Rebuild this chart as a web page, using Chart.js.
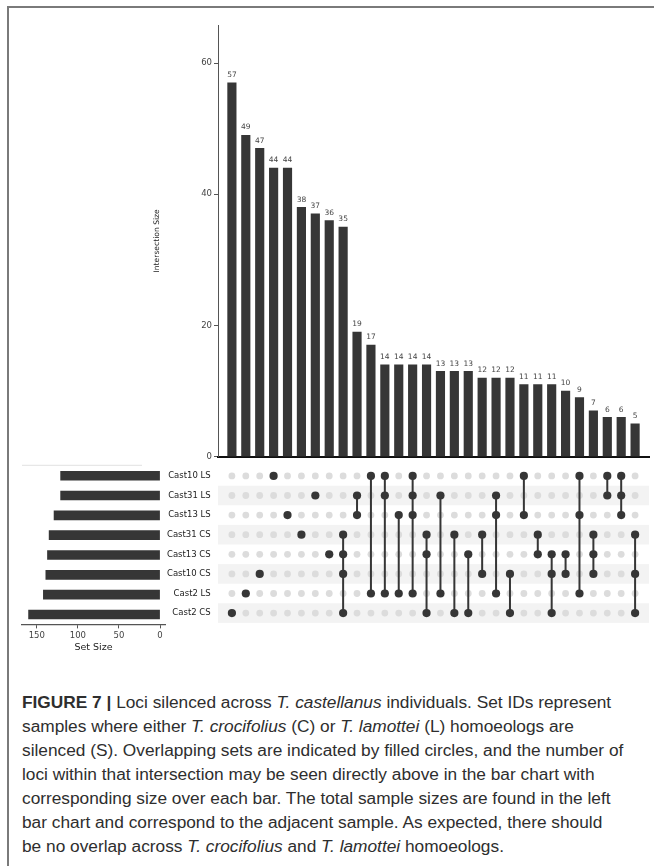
<!DOCTYPE html>
<html>
<head>
<meta charset="utf-8">
<script src="https://cdn.jsdelivr.net/npm/chart.js@4.4.0/dist/chart.umd.min.js"></script>
<style>
  body { margin: 0; background: #fff; width: 654px; height: 866px; overflow: hidden; position: relative; }
  .frame { position: absolute; left: 7px; top: 6px; right: 0; bottom: 0; border-left: 2px solid #7a7a7a; border-top: 2px solid #7a7a7a; }
  canvas { position: absolute; }
  #caption { position: absolute; left: 22px; top: 690px; font-family: "Liberation Sans", Arial, sans-serif; font-size: 17.3px; line-height: 24px; color: #2e2e2e; white-space: nowrap; }
</style>
</head>
<body>
<div class="frame"></div>
<canvas id="bars" width="514" height="470" style="left:140px;top:0"></canvas>
<canvas id="matrix" width="514" height="165" style="left:140px;top:462px"></canvas>
<canvas id="totals" width="175" height="200" style="left:0;top:462px"></canvas>
<div id="caption">
  <b>FIGURE 7 |</b> Loci silenced across <i>T. castellanus</i> individuals. Set IDs represent<br>
  samples where either <i>T. crocifolius</i> (C) or <i>T. lamottei</i> (L) homoeologs are<br>
  silenced (S). Overlapping sets are indicated by filled circles, and the number of<br>
  loci within that intersection may be seen directly above in the bar chart with<br>
  corresponding size over each bar. The total sample sizes are found in the left<br>
  bar chart and correspond to the adjacent sample. As expected, there should<br>
  be no overlap across <i>T. crocifolius</i> and <i>T. lamottei</i> homoeologs.
</div>
<script>
// sets, top row first
const setNames = ['Cast10 LS', 'Cast31 LS', 'Cast13 LS', 'Cast31 CS', 'Cast13 CS', 'Cast10 CS', 'Cast2 LS', 'Cast2 CS'];
const setSizes = [121, 121, 129, 135, 137, 139, 142, 160];
const setSizeTicks = [0, 50, 100, 150];

// intersections, left to right
const intersectionSizes = [57, 49, 47, 44, 44, 38, 37, 36, 35, 19, 17, 14, 14, 14, 14, 13, 13, 13, 12, 12, 12, 11, 11, 11, 10, 9, 7, 6, 6, 5];
const intersectionSets = [
  ['Cast2 CS'],
  ['Cast2 LS'],
  ['Cast10 CS'],
  ['Cast10 LS'],
  ['Cast13 LS'],
  ['Cast31 CS'],
  ['Cast31 LS'],
  ['Cast13 CS'],
  ['Cast31 CS', 'Cast13 CS', 'Cast10 CS', 'Cast2 CS'],
  ['Cast31 LS', 'Cast13 LS'],
  ['Cast10 LS', 'Cast2 LS'],
  ['Cast10 LS', 'Cast31 LS', 'Cast2 LS'],
  ['Cast13 LS', 'Cast2 LS'],
  ['Cast10 LS', 'Cast31 LS', 'Cast13 LS', 'Cast2 LS'],
  ['Cast31 CS', 'Cast13 CS', 'Cast2 CS'],
  ['Cast31 LS', 'Cast2 LS'],
  ['Cast31 CS', 'Cast2 CS'],
  ['Cast13 CS', 'Cast2 CS'],
  ['Cast31 CS', 'Cast10 CS'],
  ['Cast31 LS', 'Cast13 LS', 'Cast2 LS'],
  ['Cast10 CS', 'Cast2 CS'],
  ['Cast10 LS', 'Cast13 LS'],
  ['Cast31 CS', 'Cast13 CS'],
  ['Cast13 CS', 'Cast10 CS', 'Cast2 CS'],
  ['Cast13 CS', 'Cast10 CS'],
  ['Cast10 LS', 'Cast13 LS', 'Cast2 LS'],
  ['Cast31 CS', 'Cast13 CS', 'Cast10 CS'],
  ['Cast10 LS', 'Cast31 LS'],
  ['Cast10 LS', 'Cast31 LS', 'Cast13 LS'],
  ['Cast31 CS', 'Cast10 CS', 'Cast2 CS']
];
const sizeTicks = [0, 20, 40, 60];

const dark = '#363636';
Chart.defaults.font.family = '"DejaVu Sans", sans-serif';

// keep tick labels from pushing the plot area around
function noPad(s) { s.paddingTop = 0; s.paddingBottom = 0; s.paddingLeft = 0; s.paddingRight = 0; }

// numbers above the bars
const barLabels = {
  id: 'barLabels',
  afterDatasetsDraw(chart) {
    const ctx = chart.ctx;
    ctx.save();
    ctx.font = '7.5px "DejaVu Sans"';
    ctx.fillStyle = '#444';
    ctx.textAlign = 'center';
    ctx.textBaseline = 'bottom';
    chart.getDatasetMeta(0).data.forEach((bar, i) => {
      ctx.fillText(intersectionSizes[i], bar.x, bar.y - 4);
    });
    ctx.restore();
  }
};

new Chart(document.getElementById('bars'), {
  type: 'bar',
  data: {
    datasets: [{
      data: intersectionSizes.map((v, i) => ({ x: i, y: v })),
      backgroundColor: dark,
      barThickness: 8.5
    }]
  },
  options: {
    responsive: false,
    animation: false,
    layout: { padding: { left: 0, right: 5, top: 25, bottom: 13.3 } },
    plugins: { legend: { display: false }, tooltip: { enabled: false } },
    scales: {
      x: {
        type: 'linear', min: -1, max: 30, offset: false,
        ticks: { display: false },
        grid: { display: false, offset: false },
        border: { color: '#111', width: 2 },
        afterFit(s) { s.height = 0; noPad(s); }
      },
      y: {
        min: 0, max: 65.8,
        afterBuildTicks(s) { s.ticks = sizeTicks.map(v => ({ value: v })); },
        ticks: { color: '#444', font: { size: 8.5 }, padding: 2 },
        grid: { drawOnChartArea: false, tickLength: 4, color: '#555' },
        border: { color: '#555', width: 1 },
        title: { display: true, text: 'Intersection Size', color: '#222', font: { size: 7.6 }, padding: { top: 12, bottom: 0 } },
        afterFit(s) { s.width = 78; noPad(s); }
      }
    }
  },
  plugins: [barLabels]
});

// grey bands behind every other row
const stripes = {
  id: 'stripes',
  beforeDatasetsDraw(chart) {
    const { ctx, chartArea, scales } = chart;
    ctx.save();
    ctx.fillStyle = '#f3f3f3';
    setNames.forEach((name, r) => {
      if (r % 2 === 0) return;
      const y0 = scales.y.getPixelForValue(r - 0.5);
      const y1 = scales.y.getPixelForValue(r + 0.5);
      ctx.fillRect(chartArea.left, y0, chartArea.right - chartArea.left, y1 - y0);
    });
    ctx.restore();
  }
};

const emptyDots = [];
intersectionSets.forEach((_, c) => setNames.forEach((_, r) => emptyDots.push({ x: c, y: r })));
const filledDots = [];
const links = [];
intersectionSets.forEach((sets, c) => {
  const rows = sets.map(s => setNames.indexOf(s));
  rows.forEach(r => filledDots.push({ x: c, y: r }));
  if (rows.length > 1) {
    links.push({
      type: 'line',
      data: [{ x: c, y: Math.min(...rows) }, { x: c, y: Math.max(...rows) }],
      borderColor: dark, borderWidth: 2, pointRadius: 0, order: 1
    });
  }
});

new Chart(document.getElementById('matrix'), {
  type: 'scatter',
  data: {
    datasets: [
      { data: filledDots, backgroundColor: dark, borderWidth: 0, pointRadius: 4.1, order: 0 },
      ...links,
      { data: emptyDots, backgroundColor: '#dcdcdc', borderWidth: 0, pointRadius: 3.4, order: 2 }
    ]
  },
  options: {
    responsive: false,
    animation: false,
    layout: { padding: { left: 0, right: 5, top: 3.8, bottom: 2.6 } },
    plugins: { legend: { display: false }, tooltip: { enabled: false } },
    scales: {
      x: { type: 'linear', min: -1, max: 30, display: false },
      y: {
        type: 'linear', min: -0.5, max: 7.5, reverse: true,
        afterBuildTicks(s) { s.ticks = setNames.map((_, i) => ({ value: i })); },
        ticks: { color: '#222', font: { size: 8.5 }, padding: 7.3, callback: v => setNames[v] },
        grid: { display: false, drawTicks: false },
        border: { display: false },
        afterFit(s) { s.width = 78; noPad(s); }
      }
    }
  },
  plugins: [stripes]
});

// faint line along the top of the totals panel
const topRule = {
  id: 'topRule',
  beforeDatasetsDraw(chart) {
    const { ctx, chartArea } = chart;
    ctx.save();
    ctx.strokeStyle = '#e2e2e2';
    ctx.lineWidth = 1;
    ctx.beginPath();
    ctx.moveTo(chartArea.left, chartArea.top - 0.5);
    ctx.lineTo(chartArea.left + 120, chartArea.top - 0.5);
    ctx.stroke();
    ctx.restore();
  }
};

new Chart(document.getElementById('totals'), {
  type: 'bar',
  data: {
    labels: setNames,
    datasets: [{ data: setSizes, backgroundColor: dark, barThickness: 9 }]
  },
  options: {
    indexAxis: 'y',
    responsive: false,
    animation: false,
    layout: { padding: { left: 22, right: 10, top: 3.8, bottom: 0 } },
    plugins: { legend: { display: false }, tooltip: { enabled: false } },
    scales: {
      y: { display: false },
      x: {
        min: -6, max: 168, reverse: true,
        afterBuildTicks(s) { s.ticks = setSizeTicks.map(v => ({ value: v })); },
        ticks: { color: '#444', font: { size: 8.5 }, padding: 2, maxRotation: 0 },
        grid: { drawOnChartArea: false, tickLength: 4, color: '#555' },
        border: { color: '#555', width: 1.2 },
        title: { display: true, text: 'Set Size', color: '#222', font: { size: 9.5 }, padding: { top: 0, bottom: 9 } },
        afterFit(s) { s.height = 37.6; noPad(s); }
      }
    }
  },
  plugins: [topRule]
});
</script>
</body>
</html>
